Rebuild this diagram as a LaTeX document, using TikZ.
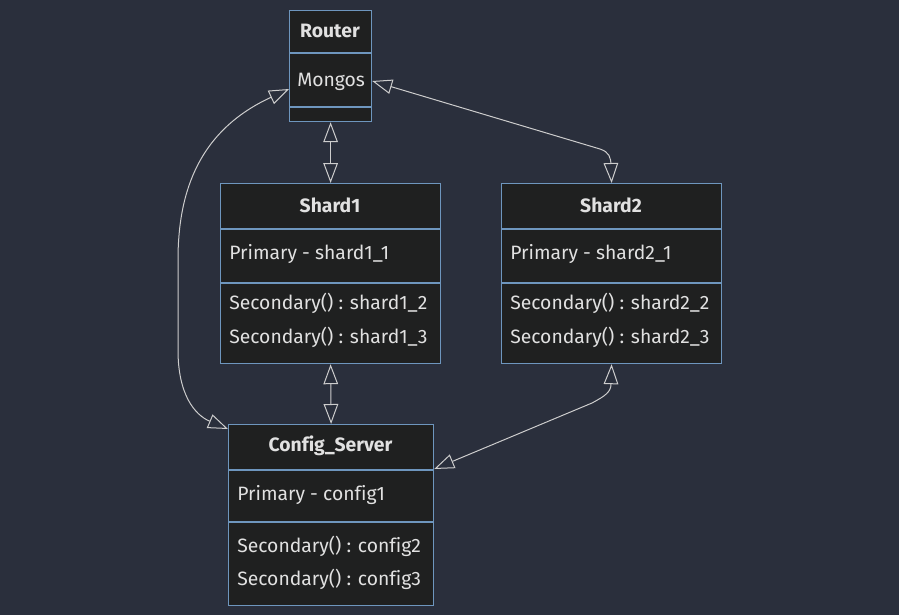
\documentclass[tikz,border=0pt]{standalone}
\usepackage{fontspec}
\setmainfont[Ligatures=NoCommon]{Fira Sans}
\usetikzlibrary{arrows.meta,calc}
\definecolor{bgcol}{RGB}{42,47,60}
\definecolor{boxfill}{RGB}{31,32,32}
\definecolor{boxline}{RGB}{110,150,190}
\definecolor{edgecol}{RGB}{205,205,205}
\definecolor{txtcol}{RGB}{225,225,225}
\tikzset{
  box/.style={draw=boxline, fill=boxfill, line width=0.9pt, anchor=north west, inner sep=0pt},
  title/.style={text=txtcol, font=\fontsize{14.5}{16}\selectfont\bfseries, inner sep=0pt},
  attr/.style={text=txtcol, font=\fontsize{14.5}{16}\selectfont, anchor=west, inner sep=0pt},
  divider/.style={draw=boxline, line width=0.9pt},
  conn/.style={draw=edgecol, line width=0.75pt,
    {Triangle[length=15pt,width=11pt,fill=bgcol]}-{Triangle[length=15pt,width=11pt,fill=bgcol]}}
}
\begin{document}
\begin{tikzpicture}[x=0.75pt,y=-0.75pt]
\fill[bgcol] (0,0) rectangle (899,615);
\useasboundingbox (0,0) rectangle (899,615);
% Router
\node[box, minimum width=61.5pt, minimum height=83.25pt] (router) at (289,10) {};
\draw[divider] (289,53) -- (371,53);
\draw[divider] (289,107) -- (371,107);
\node[title] (routerT) at (330,31) {Router};
\node[attr] (routerA) at (297,82) {Mongos};
% Shard1
\node[box, minimum width=165pt, minimum height=135pt] (shard1) at (220,183) {};
\draw[divider] (220,229) -- (440,229);
\draw[divider] (220,283) -- (440,283);
\node[title] (s1T) at (330,205) {Shard1};
\node[attr] (s1A) at (229,254) {Primary - shard1\_1};
\node[attr] (s1B) at (229,303) {Secondary() : shard1\_2};
\node[attr] (s1C) at (229,337) {Secondary() : shard1\_3};
% Shard2
\node[box, minimum width=165pt, minimum height=135pt] (shard2) at (501,183) {};
\draw[divider] (501,229) -- (721,229);
\draw[divider] (501,283) -- (721,283);
\node[title] (s2T) at (611,205) {Shard2};
\node[attr] (s2A) at (510,254) {Primary - shard2\_1};
\node[attr] (s2B) at (510,303) {Secondary() : shard2\_2};
\node[attr] (s2C) at (510,337) {Secondary() : shard2\_3};
% Config
\node[box, minimum width=153.75pt, minimum height=135.75pt] (config) at (228,424) {};
\draw[divider] (228,470) -- (433,470);
\draw[divider] (228,522) -- (433,522);
\node[title] (cT) at (330.5,446) {Config\_Server};
\node[attr] (cA) at (237,495) {Primary - config1};
\node[attr] (cB) at (237,546) {Secondary() : config2};
\node[attr] (cC) at (237,579) {Secondary() : config3};
% connectors
\draw[conn] (router.south) -- (shard1.north);
\draw[conn] (shard1.south) -- (config.north);
\draw[conn] ($(router.north east)+(0,71)$) -- (600,149) .. controls (609,152) and (611,157) .. (611,166) -- (shard2.north);
\draw[conn] ($(router.north west)+(0,79)$) .. controls (200,130) and (178,190) .. (178,260) -- (178,350) .. controls (178,395) and (195,415) .. ($(config.north west)+(0,5)$);
\draw[conn] (shard2.south) -- (611,384) .. controls (611,392) and (605,396) .. (592,403) -- ($(config.north east)+(0,45)$);
\end{tikzpicture}
\end{document}
